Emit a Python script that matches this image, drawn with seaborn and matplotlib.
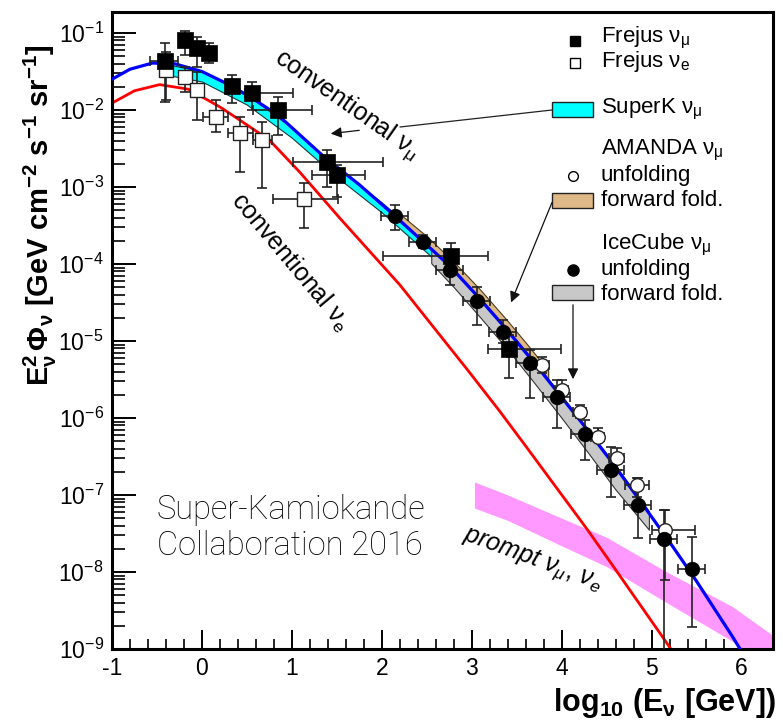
import numpy as np
import pandas as pd
import seaborn as sns
import matplotlib
matplotlib.use("Agg")
import matplotlib.pyplot as plt
from matplotlib.patches import Rectangle, FancyArrowPatch
from matplotlib.lines import Line2D

# ---------------- data (log10 E [GeV], log10 E^2 Phi) ----------------
# conventional nu_mu (blue)
conv_mu_x = [-1.0, -0.8, -0.55, -0.3, 0.0, 0.3, 0.55, 0.85, 1.35, 1.75, 2.15, 2.75, 3.05, 3.35, 3.7, 4.25, 4.55, 4.9, 5.2, 5.5, 5.9, 6.0]
conv_mu_logy = [-1.60, -1.47, -1.39, -1.40, -1.50, -1.67, -1.84, -2.07, -2.60, -2.97, -3.38, -4.02, -4.40, -4.80, -5.29, -6.10, -6.56, -7.12, -7.61, -8.12, -8.84, -9.03]
# conventional nu_e (red)
conv_e_x = [-1.0, -0.75, -0.47, -0.15, 0.2, 0.42, 0.75, 1.09, 1.53, 2.2, 2.95, 3.31, 3.61, 4.28, 4.57, 5.12, 5.25]
conv_e_logy = [-1.91, -1.75, -1.67, -1.73, -1.96, -2.13, -2.39, -2.81, -3.40, -4.27, -5.37, -5.91, -6.38, -7.44, -7.92, -8.84, -9.06]
# prompt band (magenta)
prompt_x = [3.03, 3.4, 4.0, 4.5, 5.17, 5.9, 6.5]
prompt_hi = [-6.83, -7.00, -7.30, -7.55, -8.00, -8.45, -8.95]
prompt_lo = [-7.17, -7.33, -7.66, -7.93, -8.40, -8.90, -9.45]
# SuperK nu_mu band (cyan)
sk_x = [-0.45, 0.0, 0.5, 1.0, 1.5, 2.0, 2.5, 3.0]
sk_hi = [-1.39, -1.50, -1.80, -2.23, -2.74, -3.20, -3.70, -4.24]
sk_lo = [-1.53, -1.63, -1.93, -2.36, -2.87, -3.33, -3.85, -4.40]
# AMANDA forward folding band (tan)
am_ff_x = [2.15, 2.5, 2.8, 3.1, 3.4, 3.6, 3.85]
am_ff_hi = [-3.30, -3.64, -3.97, -4.34, -4.74, -5.02, -5.38]
am_ff_lo = [-3.40, -3.76, -4.09, -4.47, -4.87, -5.15, -5.51]
# IceCube forward folding band (gray)
ic_ff_x = [2.55, 2.8, 3.1, 3.4, 3.7, 4.0, 4.3, 4.6, 4.97]
ic_ff_hi = [-3.79, -4.07, -4.45, -4.85, -5.27, -5.71, -6.16, -6.62, -7.21]
ic_ff_lo = [-3.99, -4.30, -4.70, -5.11, -5.55, -6.00, -6.46, -6.93, -7.45]

# Frejus nu_mu (filled squares)
fmu_x = [-0.41, -0.19, -0.056, 0.078, 0.333, 0.556, 0.844, 1.389, 1.5, 2.767, 3.41]
fmu_logy = [-1.364, -1.09, -1.195, -1.26, -1.688, -1.78, -2.0, -2.675, -2.84, -3.896, -5.10]
fmu_yup = [-1.13, -0.97, -1.05, -1.13, -1.545, -1.64, -1.83, -2.52, -2.71, -3.73, -4.92]
fmu_ydn = [-1.896, -1.29, -1.44, -1.39, -1.91, -2.0, -2.32, -3.0, -3.13, -4.05, -5.48]
fmu_xlo = [-0.58, -0.19, -0.056, 0.078, 0.333, 0.478, 0.567, 1.01, 1.22, 2.01, 3.18]
fmu_xhi = [-0.27, -0.19, -0.056, 0.078, 0.333, 1.01, 1.22, 2.01, 1.81, 3.18, 3.99]
# Frejus nu_e (open squares)
fe_x = [-0.40, -0.19, -0.056, 0.156, 0.42, 0.667, 1.13]
fe_logy = [-1.48, -1.57, -1.74, -2.09, -2.30, -2.39, -3.16]
fe_yup = [-1.25, -1.44, -1.50, -1.87, -2.09, -2.16, -2.95]
fe_ydn = [-1.87, -1.77, -2.13, -2.29, -2.80, -3.01, -3.53]
fe_xlo = [-0.40, -0.19, -0.056, 0.01, 0.29, 0.57, 0.79]
fe_xhi = [-0.40, -0.19, -0.056, 0.29, 0.57, 0.78, 1.51]
# IceCube unfolding (filled circles)
ic_x = [2.144, 2.456, 2.756, 3.056, 3.344, 3.644, 3.944, 4.256, 4.544, 4.844, 5.133, 5.444]
ic_logy = [-3.377, -3.714, -4.078, -4.48, -4.883, -5.286, -5.727, -6.208, -6.675, -7.13, -7.57, -7.96]
ic_yup = [-3.234, -3.623, -3.987, -4.299, -4.727, -5.117, -5.506, -6.026, -6.377, -6.779, -7.195, -7.545]
ic_ydn = [-3.558, -3.792, -4.273, -4.792, -5.026, -5.740, -6.130, -6.545, -7.026, -7.558, -9.14, -8.714]
ic_xerr = [0.15, 0.15, 0.15, 0.15, 0.15, 0.15, 0.15, 0.15, 0.15, 0.15, 0.15, 0.15]
# AMANDA unfolding (open circles)
am_x = [3.778, 4.0, 4.2, 4.4, 4.611, 4.833, 5.144]
am_logy = [-5.312, -5.636, -5.922, -6.247, -6.52, -6.87, -7.455]
am_yup = [-5.21, -5.50, -5.83, -6.13, -6.39, -6.78, -7.195]
am_ydn = [-5.41, -5.79, -6.00, -6.31, -6.68, -7.03, -8.10]
am_xlo = [3.70, 3.93, 4.13, 4.33, 4.53, 4.70, 5.01]
am_xhi = [3.86, 4.07, 4.27, 4.47, 4.69, 4.97, 5.48]

xticks = [-1, 0, 1, 2, 3, 4, 5, 6]
yticks = [1e-9, 1e-8, 1e-7, 1e-6, 1e-5, 1e-4, 1e-3, 1e-2, 1e-1]

# ---------------- style ----------------
sns.set_theme(style="ticks")
plt.rcParams["font.family"] = ["Liberation Sans", "DejaVu Sans"]
plt.rcParams["text.color"] = "black"
plt.rcParams["mathtext.fontset"] = "custom"
plt.rcParams["mathtext.rm"] = "Liberation Sans"
plt.rcParams["mathtext.it"] = "Liberation Sans:italic"
plt.rcParams["mathtext.bf"] = "Liberation Sans:bold"
plt.rcParams["mathtext.default"] = "regular"

W, H = 783, 726
fig = plt.figure(figsize=(W / 100, H / 100), dpi=100)
ax = fig.add_axes([112 / W, 77 / H, 661 / W, 637 / H])

def p10(v):
    return np.power(10.0, np.asarray(v, dtype=float))

# bands
ax.fill_between(prompt_x, p10(prompt_lo), p10(prompt_hi), color="#ff99ff", lw=0, zorder=1)
ax.fill_between(sk_x, p10(sk_lo), p10(sk_hi), facecolor="#00ffff", edgecolor="#1a3a3a", lw=0.8, zorder=3)
ax.fill_between(am_ff_x, p10(am_ff_lo), p10(am_ff_hi), facecolor="#deb887", edgecolor="#4a3a20", lw=0.8, zorder=3)
ax.fill_between(ic_ff_x, p10(ic_ff_lo), p10(ic_ff_hi), facecolor="#c8c8c8", edgecolor="#333333", lw=0.8, zorder=3)

# lines
sns.lineplot(x=conv_e_x, y=p10(conv_e_logy), color="#ff0000", lw=2.0, ax=ax, sort=False, estimator=None, zorder=2)
sns.lineplot(x=conv_mu_x, y=p10(conv_mu_logy), color="#0000ff", lw=2.3, ax=ax, sort=False, estimator=None, zorder=4)

def errs(x, y, yup, ydn, xlo, xhi):
    y = p10(y)
    yerr = np.vstack([y - p10(ydn), p10(yup) - y])
    x = np.asarray(x, float)
    xerr = np.vstack([x - np.asarray(xlo, float), np.asarray(xhi, float) - x])
    return x, y, xerr, yerr

ekw = dict(fmt="none", ecolor="#222222", elinewidth=1.2, capsize=3.5, capthick=1.2, zorder=5)

x, y, xe, ye = errs(fe_x, fe_logy, fe_yup, fe_ydn, fe_xlo, fe_xhi)
ax.errorbar(x, y, xerr=xe, yerr=ye, **ekw)
x, y, xe, ye = errs(fmu_x, fmu_logy, fmu_yup, fmu_ydn, fmu_xlo, fmu_xhi)
ax.errorbar(x, y, xerr=xe, yerr=ye, **ekw)
x, y, xe, ye = errs(am_x, am_logy, am_yup, am_ydn, am_xlo, am_xhi)
ax.errorbar(x, y, xerr=xe, yerr=ye, **ekw)
icy = p10(ic_logy)
ax.errorbar(ic_x, icy, xerr=ic_xerr, yerr=np.vstack([icy - p10(ic_ydn), p10(ic_yup) - icy]), **ekw)

sns.scatterplot(x=fe_x, y=p10(fe_logy), marker="s", s=110, facecolor="white", edgecolor="#222222", linewidth=1.0, ax=ax, zorder=6)
sns.scatterplot(x=am_x, y=p10(am_logy), marker="o", s=95, facecolor="white", edgecolor="#222222", linewidth=1.0, ax=ax, zorder=6)
sns.scatterplot(x=fmu_x, y=p10(fmu_logy), marker="s", s=120, color="black", edgecolor="black", linewidth=0.5, ax=ax, zorder=7)
sns.scatterplot(x=ic_x, y=icy, marker="o", s=110, color="black", edgecolor="black", linewidth=0.5, ax=ax, zorder=7)

# axes
ax.set_yscale("log")
ax.set_xlim(-1, 6.35)
ax.set_ylim(1e-9, 10 ** -0.727)
ax.set_xticks(xticks)
ax.set_xticklabels([str(t) for t in xticks])
ax.xaxis.set_minor_locator(matplotlib.ticker.MultipleLocator(0.2))
ax.yaxis.set_major_locator(matplotlib.ticker.FixedLocator(yticks))
ax.yaxis.set_major_formatter(matplotlib.ticker.LogFormatterSciNotation())
ax.yaxis.set_minor_locator(matplotlib.ticker.LogLocator(base=10, subs=np.arange(2, 10), numticks=20))
ax.yaxis.set_minor_formatter(matplotlib.ticker.NullFormatter())
ax.tick_params(axis="both", which="major", direction="in", labelsize=16.5, width=1.4, color="black", labelcolor="black")
ax.tick_params(axis="y", which="major", length=17, pad=6)
ax.tick_params(axis="x", which="major", length=14, pad=6)
ax.tick_params(axis="y", which="minor", direction="in", length=9, width=1.2, color="black")
ax.tick_params(axis="x", which="minor", direction="in", length=7, width=1.2, color="black")
for s in ax.spines.values():
    s.set_visible(True)
    s.set_linewidth(2.2)
    s.set_color("black")
ax.set_xlabel("")
ax.set_ylabel("")
ax.xaxis.label.set_visible(False)
ax.yaxis.label.set_visible(False)

fig.text(40 / W, 1 - 215 / H, r"$\mathbf{E^{2}_{\nu}\,\Phi_{\nu}\ [GeV\ cm^{-2}\ s^{-1}\ sr^{-1}]}$",
         rotation=90, ha="center", va="center", fontsize=21)
fig.text(776 / W, 1 - 703 / H, r"$\mathbf{log_{10}\ (E_{\nu}\ [GeV])}$",
         ha="right", va="center", fontsize=22)

# annotations in plot
ax.text(1.61, 10 ** -1.935, r"conventional $\nu_{\mu}$", rotation=-35, ha="center", va="center",
        rotation_mode="anchor", fontsize=18, zorder=8)
ax.text(0.98, 10 ** -3.97, r"conventional $\nu_{e}$", rotation=-50, ha="center", va="center",
        rotation_mode="anchor", fontsize=18, zorder=8)
ax.text(3.68, 10 ** -7.84, r"prompt $\mathit{\nu_{\mu},\,\nu_{e}}$", rotation=-20, ha="center", va="center",
        rotation_mode="anchor", fontsize=18, style="italic", zorder=8)
ax.text(-0.5, 10 ** -7.43, "Super-Kamiokande\nCollaboration 2016", ha="left", va="center",
        fontsize=23.5, family=["Roboto", "DejaVu Sans"], fontweight="light", color="black",
        linespacing=1.15, zorder=8)

# ---------------- legend (figure pixel placement) ----------------
def P(px, py):
    return (px / W, 1 - py / H)

tf = fig.transFigure
fs = 16
fig.add_artist(Line2D([P(575, 41)[0]], [P(575, 41)[1]], marker="s", ms=7, color="black", transform=tf))
fig.add_artist(Line2D([P(575, 63)[0]], [P(575, 63)[1]], marker="s", ms=7, mfc="white", mec="black", mew=1, transform=tf))
fig.add_artist(Line2D([P(573, 176)[0]], [P(573, 176)[1]], marker="o", ms=7, mfc="white", mec="black", mew=1, transform=tf))
fig.add_artist(Line2D([P(573, 270)[0]], [P(573, 270)[1]], marker="o", ms=8, color="black", transform=tf))
for (y0, col) in [(102, "#00ffff"), (193, "#deb887"), (285, "#c8c8c8")]:
    x0, yy = P(552, y0 + 15)
    fig.add_artist(Rectangle((x0, yy), 41 / W, 15 / H, facecolor=col, edgecolor="#222222", lw=1.0, transform=tf))

legend_lines = [
    (38, r"Frejus $\nu_{\mu}$"),
    (62, r"Frejus $\nu_{e}$"),
    (109, r"SuperK $\nu_{\mu}$"),
    (150, r"AMANDA $\nu_{\mu}$"),
    (175, "unfolding"),
    (201, "forward fold."),
    (245, r"IceCube $\nu_{\mu}$"),
    (270, "unfolding"),
    (295, "forward fold."),
]
for py, t in legend_lines:
    fig.text(*P(601, py), t, ha="left", va="center", fontsize=fs)

# pointer lines / arrows
fig.add_artist(Line2D([P(552, 110)[0], P(400, 127)[0]], [P(552, 110)[1], P(400, 127)[1]], color="#222222", lw=0.9, transform=tf))
arrow_kw = dict(arrowstyle="-|>", color="#111111", lw=0.9, mutation_scale=16)
fig.add_artist(FancyArrowPatch(P(362, 130), P(328, 134), transform=tf, **arrow_kw))
fig.add_artist(FancyArrowPatch(P(553, 200), P(510, 305), transform=tf, **arrow_kw))
fig.add_artist(FancyArrowPatch(P(573, 302), P(573, 382), transform=tf, **arrow_kw))

fig.savefig("out.png", dpi=100, facecolor="white")
